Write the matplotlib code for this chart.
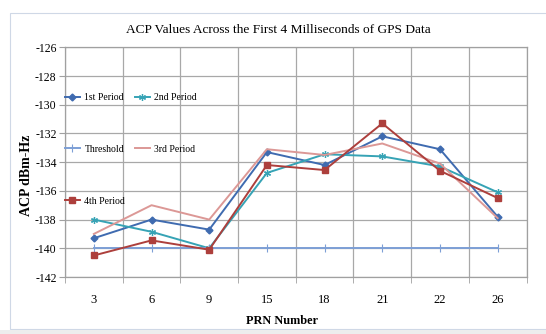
import matplotlib
matplotlib.use("Agg")
import matplotlib.pyplot as plt
from matplotlib.patches import Rectangle
from matplotlib.ticker import FixedLocator

plt.rcParams['font.family'] = ['Liberation Serif', 'DejaVu Serif']
plt.rcParams['axes.unicode_minus'] = False

prn = ['3', '6', '9', '15', '18', '21', '22', '26']
period1 = [-139.3, -138.0, -138.7, -133.3, -134.2, -132.2, -133.1, -137.8]
period2 = [-138.0, -138.85, -140.0, -134.75, -133.45, -133.6, -134.3, -136.1]
threshold = [-140, -140, -140, -140, -140, -140, -140, -140]
period3 = [-139.0, -137.0, -138.0, -133.1, -133.5, -132.7, -134.1, -137.9]
period4 = [-140.5, -139.45, -140.1, -134.2, -134.55, -131.3, -134.6, -136.5]

fig = plt.figure(figsize=(5.46, 3.34), dpi=100)

# chart frame like the excel chart area
fig.patches.append(Rectangle((10 / 546, 1 - 329 / 334), 1, 316 / 334, transform=fig.transFigure,
                             facecolor='white', edgecolor='#cfd8e6', lw=0.8, zorder=-5))
fig.patches.append(Rectangle((0, 0), 1, 1 - 330 / 334, transform=fig.transFigure,
                             facecolor='#ededed', edgecolor='none', zorder=-5))

ax = fig.add_axes([65 / 546, 1 - 277 / 334, (526.5 - 65) / 546, (277 - 47.3) / 334])
ax.set_facecolor('none')

x = range(len(prn))
l1, = ax.plot(x, period1, color='#3f6bb0', lw=1.4, marker='D', ms=3.5, label='1st Period')
l2, = ax.plot(x, period2, color='#36a3b5', lw=1.4, marker=(6, 2, 0), ms=5, mew=0.9, label='2nd Period')
lt, = ax.plot(x, threshold, color='#7d9fd6', lw=1.4, marker='|', ms=6, mew=0.8, label='Threshold')
l3, = ax.plot(x, period3, color='#dc9896', lw=1.4, label='3rd Period')
l4, = ax.plot(x, period4, color='#ad3f3c', lw=1.4, marker='s', ms=5, label='4th Period')

ax.set_xlim(-0.5, len(prn) - 0.5)
ax.set_ylim(-142, -126)
ax.set_yticks(range(-142, -125, 2))
ax.set_xticks(list(x))
ax.set_xticklabels(prn, fontsize=9)
ax.xaxis.set_minor_locator(FixedLocator([i - 0.5 for i in range(len(prn) + 1)]))
ax.tick_params(axis='x', which='major', length=0, pad=12)
ax.tick_params(axis='x', which='minor', length=4, color='#a0a0a0', direction='out')
ax.tick_params(axis='y', length=4, color='#a0a0a0', labelsize=8.5, pad=2)
ax.grid(axis='y', which='major', color='#a8a8a8', lw=0.9)
ax.grid(axis='x', which='minor', color='#a8a8a8', lw=0.9)
for s in ax.spines.values():
    s.set_color('#a0a0a0')
    s.set_linewidth(0.9)

fig.text(278 / 546, 1 - 30 / 334, 'ACP Values Across the First 4 Milliseconds of GPS Data',
         fontsize=9.6, ha='center', va='center')
ax.set_xlabel('PRN Number', fontsize=8.8, fontweight='bold')
ax.xaxis.set_label_coords(0.471, -0.165)
ax.set_ylabel('ACP dBm-Hz', fontsize=10, fontweight='bold')
ax.yaxis.set_label_coords(-0.069, 0.444)

# excel style legend: 3 rows, 2 columns
ax.legend([l1, lt, l4, l2, l3], ['1st Period', 'Threshold', '4th Period', '2nd Period', '3rd Period'],
          ncol=2, frameon=False, fontsize=7, loc='upper left',
          bbox_to_anchor=(0.0, 1 - (93 - 47.3) / (277 - 47.3)),
          borderpad=0, borderaxespad=0, labelspacing=4.4, handlelength=1.5,
          handletextpad=0.5, columnspacing=1.0)

fig.savefig('out.png', dpi=100)
